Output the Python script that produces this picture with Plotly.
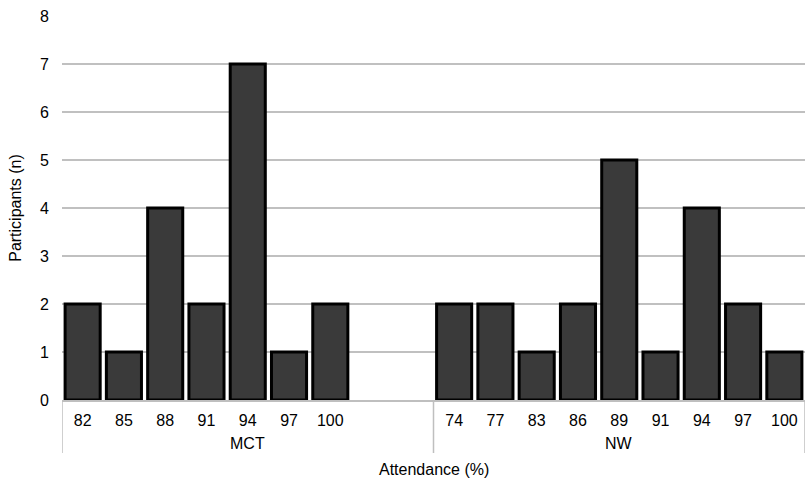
import plotly.graph_objects as go

group_names = ["MCT", "NW"]
groups = ["MCT"] * 9 + ["NW"] * 9
attendance = ["82", "85", "88", "91", "94", "97", "100", "", "",
              "74", "77", "83", "86", "89", "91", "94", "97", "100"]
participants = [2, 1, 4, 2, 7, 1, 2, None, None,
                2, 2, 1, 2, 5, 1, 4, 2, 1]
y_ticks = [0, 1, 2, 3, 4, 5, 6, 7, 8]

# unique category keys (zero-width spaces) so repeated labels keep their own slot
zw = "\u200b"
seen = {}
labels = []
for a in attendance:
    n = seen.get(a, 0)
    seen[a] = n + 1
    labels.append(a + zw * n)

FS = 16

fig = go.Figure(go.Bar(
    x=labels,
    y=participants,
    marker=dict(color="#3a3a3a", line=dict(color="#000000", width=3)),
    hovertext=groups,
))

plot_h = 484 - 16 - 84

# group labels and dividers
bounds = []
start = 0
for gname in group_names:
    cnt = groups.count(gname)
    end = start + cnt
    fig.add_annotation(
        x=(start + end - 1) / 2, xref="x",
        y=-43 / plot_h, yref="paper", yanchor="middle",
        text=gname, showarrow=False, font=dict(size=FS, color="#000000"),
    )
    bounds.append(start - 0.5)
    start = end
bounds.append(start - 0.5)
for b in bounds:
    fig.add_shape(
        type="line", xref="x", yref="paper",
        x0=b, x1=b, y0=0, y1=-53 / plot_h,
        line=dict(color="#bfbfbf", width=1.5),
    )

fig.add_annotation(
    x=0.5, xref="paper", y=-69 / plot_h, yref="paper", yanchor="middle",
    text="Attendance (%)", showarrow=False, font=dict(size=FS, color="#000000"),
)

fig.update_layout(
    width=810, height=484,
    margin=dict(l=62, r=5, t=16, b=84),
    plot_bgcolor="white", paper_bgcolor="white",
    font=dict(family="Liberation Sans, Arial, sans-serif", size=FS, color="#000000"),
    showlegend=False,
    bargap=0.15,
)
fig.update_xaxes(
    type="category",
    categoryorder="array", categoryarray=labels,
    range=[-0.5, len(labels) - 0.5],
    automargin=False,
    showline=True, linecolor="#bfbfbf", linewidth=1.5,
    ticks="", ticklabelstandoff=5,
    tickfont=dict(size=FS),
    showgrid=False,
)
fig.update_yaxes(
    automargin=False,
    range=[0, 8], tickvals=y_ticks,
    showgrid=True, gridcolor="#c0c0c0", gridwidth=1.5,
    zeroline=False, showline=False,
    ticks="", ticklabelstandoff=12,
    tickfont=dict(size=FS),
    title=dict(text="Participants (n)", font=dict(size=FS), standoff=14),
)

fig.write_html("out.html", config={"displayModeBar": False},
               post_script="document.body.style.margin='0';")
